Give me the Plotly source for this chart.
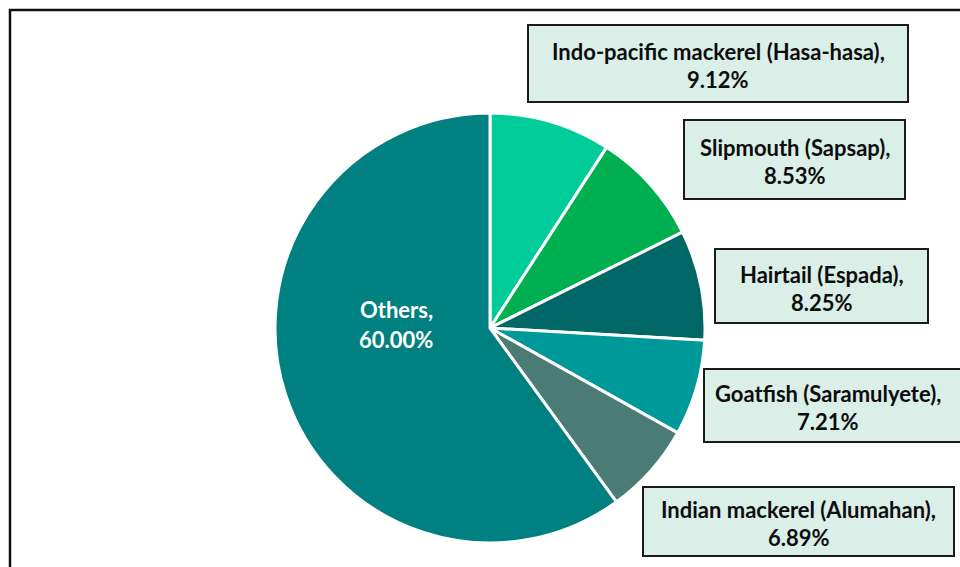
import plotly.graph_objects as go

labels = ["Indo-pacific mackerel (Hasa-hasa)", "Slipmouth (Sapsap)", "Hairtail (Espada)",
          "Goatfish (Saramulyete)", "Indian mackerel (Alumahan)", "Others"]
values = [9.12, 8.53, 8.25, 7.21, 6.89, 60.00]
colors = ["#00CC99", "#00B050", "#006666", "#009999", "#4A7B75", "#008080"]

W, H = 960, 567
cx, cy, r = 490, 328, 215

# label boxes (pixel rects: x0, y0, x1, y1) for the first five slices
boxes = [(528, 25, 908, 102), (684, 120, 905, 199), (715, 249, 928, 323),
         (704, 369, 975, 442), (643, 487, 954, 556)]
others_pos = (396, 324)

def px(x):
    return x / W

def py(y):
    return 1 - y / H

fig = go.Figure(go.Pie(
    labels=labels, values=values, sort=False, direction="clockwise", rotation=0,
    marker=dict(colors=colors, line=dict(color="white", width=3)),
    textinfo="none", hoverinfo="label+percent", showlegend=False,
    domain=dict(x=[px(cx - r), px(cx + r)], y=[py(cy + r), py(cy - r)]),
))

font = dict(family="Lato, 'Open Sans', sans-serif", size=22, color="#0D0D0D")
shapes = [dict(type="rect", xref="paper", yref="paper", x0=px(10), x1=1.05, y0=-0.05, y1=py(10),
               line=dict(color="#111111", width=2.5), fillcolor="rgba(0,0,0,0)", layer="above")]
annotations = []
for i, (b, lab, v) in enumerate(zip(boxes, labels[:5], values[:5])):
    x0, y0, x1, y1 = b
    shapes.append(dict(type="rect", xref="paper", yref="paper", x0=px(x0), x1=px(x1),
                       y0=py(y1), y1=py(y0), fillcolor="#DAEFE8",
                       line=dict(color="#1A1A1A", width=2), layer="above"))
    mx = (x0 + min(x1, 952)) / 2 if x1 > W else (x0 + x1) / 2
    my = (y0 + y1) / 2
    annotations.append(dict(text=f"<b>{lab},</b>", x=px(mx), y=py(my - 12), xref="paper", yref="paper",
                            showarrow=False, font=font, xanchor="center", yanchor="middle"))
    annotations.append(dict(text=f"<b>{v:.2f}%</b>", x=px(mx), y=py(my + 16), xref="paper", yref="paper",
                            showarrow=False, font=font, xanchor="center", yanchor="middle"))

ox, oy = others_pos
wfont = dict(font, color="white")
annotations.append(dict(text=f"<b>{labels[5]},</b>", x=px(ox), y=py(oy - 15), xref="paper", yref="paper",
                        showarrow=False, font=wfont))
annotations.append(dict(text=f"<b>{values[5]:.2f}%</b>", x=px(ox), y=py(oy + 15), xref="paper", yref="paper",
                        showarrow=False, font=wfont))

fig.update_layout(width=W, height=H, margin=dict(l=0, r=0, t=0, b=0),
                  paper_bgcolor="white", plot_bgcolor="white",
                  shapes=shapes, annotations=annotations)
fig.write_html("out.html")
